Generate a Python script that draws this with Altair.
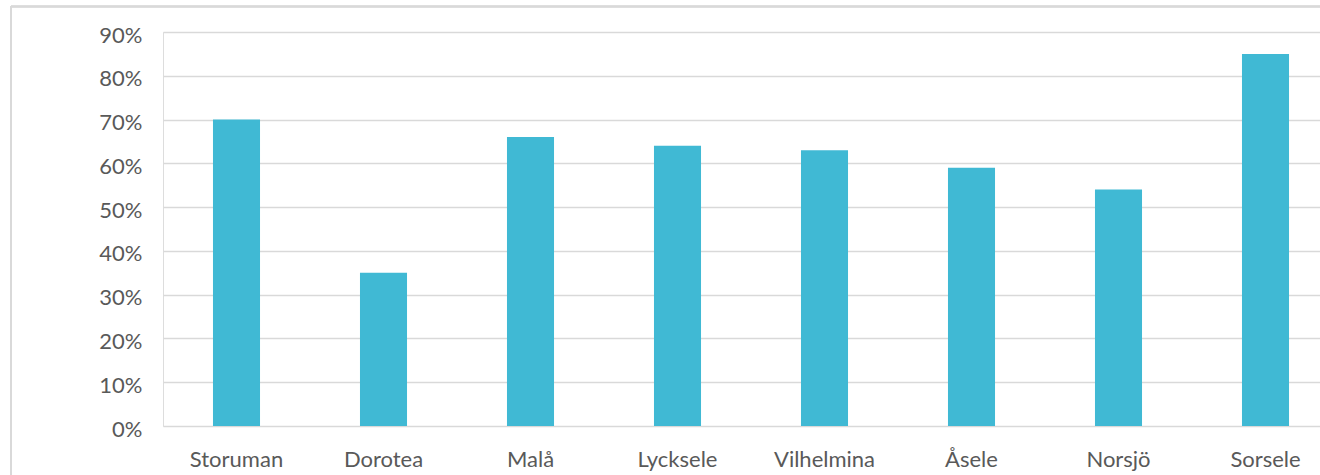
import altair as alt
import pandas as pd

# Share per municipality
kommuner = ["Storuman", "Dorotea", "Malå", "Lycksele", "Vilhelmina", "Åsele", "Norsjö", "Sorsele"]
andel = [0.70, 0.35, 0.66, 0.64, 0.63, 0.59, 0.54, 0.85]
y_ticks = [0, 0.1, 0.2, 0.3, 0.4, 0.5, 0.6, 0.7, 0.8, 0.9]

df = pd.DataFrame({"kommun": kommuner, "andel": andel})

FONT = "Lato"
LABEL_COLOR = "#595959"
GRID = "#d9d9d9"

bars = alt.Chart(df).mark_bar(color="#40B9D4").encode(
    x=alt.X(
        "kommun:N",
        sort=kommuner,
        scale=alt.Scale(range=[0, 1176], paddingInner=0.68, paddingOuter=0.34),
        axis=alt.Axis(
            title=None, labelAngle=0, ticks=False, domain=False, grid=False,
            labelFont=FONT, labelFontSize=22, labelColor=LABEL_COLOR,
            labelBaseline="alphabetic", labelPadding=40,
        ),
    ),
    y=alt.Y(
        "andel:Q",
        scale=alt.Scale(domain=[0, 0.9], nice=False),
        axis=alt.Axis(
            title=None, values=y_ticks, format=".0%", ticks=False, domain=False,
            grid=True, gridColor=GRID, gridWidth=1.6,
            labelFont=FONT, labelFontSize=22, labelColor=LABEL_COLOR,
            labelPadding=21, labelOffset=3,
        ),
    ),
)

# Light frame around the chart area (left and top edges)
frame_left = alt.Chart(df).mark_rule(color=GRID, strokeWidth=1.5).encode(
    x=alt.value(-152), y=alt.value(-25.5), y2=alt.value(450)
)
frame_top = alt.Chart(df).mark_rule(color=GRID, strokeWidth=1.5).encode(
    x=alt.value(-152), x2=alt.value(1200), y=alt.value(-25.5)
)

chart = (
    alt.layer(bars, frame_left, frame_top)
    .properties(
        width=1157,
        height=394,
        padding={"left": 163, "top": 32, "right": 0, "bottom": 49},
        autosize=alt.AutoSizeParams(type="none"),
    )
    .configure_view(stroke=None)
    .configure(background="white")
)

chart.save("out.html", embed_options={"renderer": "svg", "actions": False})
